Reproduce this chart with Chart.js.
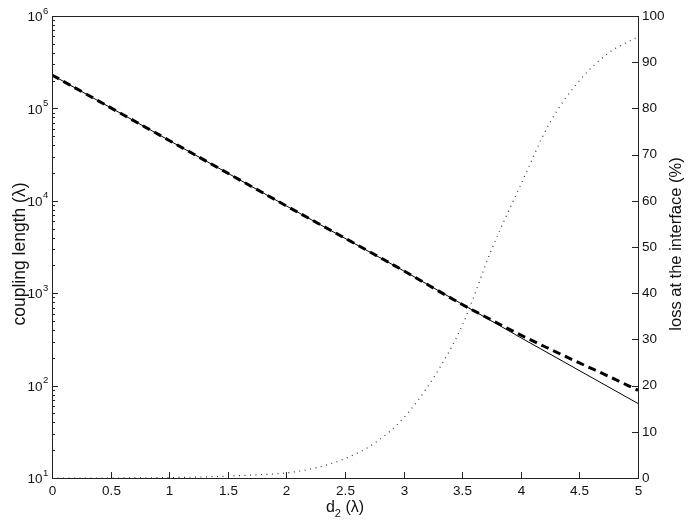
<!DOCTYPE html>
<html>
<head>
<meta charset="utf-8">
<script src="https://cdn.jsdelivr.net/npm/chart.js@4.4.1/dist/chart.umd.min.js"></script>
<style>
  html, body { margin: 0; padding: 0; background: #fff; }
  #wrap { width: 692px; height: 526px; }
</style>
</head>
<body>
<div id="wrap"><canvas id="chart"></canvas></div>
<script>
// thin solid line: coupling length, straight in log scale
const idealD   = [0, 1, 2, 3, 4, 5];
const idealLen = [230000, 45000, 8800, 1750, 330, 64];

// thick dashed line: coupling length, bends up after d2 ~ 3.5
const exactD   = [0, 1, 2, 3, 3.5, 3.75, 4, 4.25, 4.5, 4.75, 5];
const exactLen = [230000, 45000, 8800, 1750, 755, 513, 352, 248, 176, 126, 89];

// dotted line: loss at the interface (%)
const lossD   = [0, 0.5, 1, 1.25, 1.5, 1.75, 2, 2.25, 2.5, 2.75, 3, 3.25, 3.5, 3.75, 4, 4.25, 4.5, 4.75, 5];
const lossPct = [0, 0, 0.1, 0.2, 0.4, 0.7, 1.1, 2.2, 4.2, 7.5, 13, 21.5, 33, 49.4, 63.5, 77, 86, 92, 95.5];

const xTicks  = [0, 0.5, 1, 1.5, 2, 2.5, 3, 3.5, 4, 4.5, 5];
const yExps   = [1, 2, 3, 4, 5, 6];
const y2Ticks = [0, 10, 20, 30, 40, 50, 60, 70, 80, 90, 100];

const FONT = '"Liberation Sans", Arial, Helvetica, sans-serif';

function pts(xs, ys) {
  return xs.map((v, i) => ({ x: v, y: ys[i] }));
}

const axesPlugin = {
  id: 'axes',
  afterDraw(chart) {
    const ctx = chart.ctx;
    const a = chart.chartArea;
    const x = chart.scales.x, y = chart.scales.y, y2 = chart.scales.y2;
    ctx.save();
    ctx.strokeStyle = '#222';
    ctx.lineWidth = 1;
    ctx.strokeRect(a.left + 0.5, a.top + 0.5, a.right - a.left, a.bottom - a.top);

    ctx.fillStyle = '#111';
    ctx.font = '13.5px ' + FONT;
    ctx.beginPath();
    // x ticks
    ctx.textAlign = 'center';
    ctx.textBaseline = 'middle';
    xTicks.forEach(v => {
      const px = Math.round(x.getPixelForValue(v)) + 0.5;
      ctx.moveTo(px, a.bottom);
      ctx.lineTo(px, a.bottom - 6);
      ctx.fillText(String(v), px, a.bottom + 13);
    });
    // left log ticks
    yExps.forEach(e => {
      const py = Math.round(y.getPixelForValue(Math.pow(10, e))) + 0.5;
      ctx.moveTo(a.left, py);
      ctx.lineTo(a.left + 6, py);
      if (e < 6) {
        for (let m = 2; m <= 9; m++) {
          const pm = Math.round(y.getPixelForValue(m * Math.pow(10, e))) + 0.5;
          ctx.moveTo(a.left, pm);
          ctx.lineTo(a.left + 3, pm);
        }
      }
    });
    // right ticks
    y2Ticks.forEach(v => {
      const py = Math.round(y2.getPixelForValue(v)) + 0.5;
      ctx.moveTo(a.right, py);
      ctx.lineTo(a.right - 6, py);
    });
    ctx.stroke();

    // left labels 10^n
    yExps.forEach(e => {
      const py = y.getPixelForValue(Math.pow(10, e));
      ctx.font = '13.5px ' + FONT;
      ctx.textAlign = 'right';
      ctx.fillText('10', a.left - 9.5, py + 1.5);
      ctx.font = '9.5px ' + FONT;
      ctx.textAlign = 'left';
      ctx.fillText(String(e), a.left - 9, py - 5);
    });
    // right labels
    ctx.font = '13.5px ' + FONT;
    ctx.textAlign = 'left';
    y2Ticks.forEach(v => {
      ctx.fillText(String(v), a.right + 4, y2.getPixelForValue(v));
    });

    // titles
    ctx.save();
    ctx.font = '17.5px ' + FONT;
    ctx.translate(20, 254);
    ctx.rotate(-Math.PI / 2);
    ctx.textAlign = 'center';
    ctx.fillText('coupling length (λ)', 0, 0);
    ctx.restore();

    ctx.save();
    ctx.font = '16.5px ' + FONT;
    ctx.translate(676, 244);
    ctx.rotate(-Math.PI / 2);
    ctx.textAlign = 'center';
    ctx.fillText('loss at the interface (%)', 0, 0);
    ctx.restore();

    // d_2 (λ)
    const cx = (a.left + a.right) / 2;
    const ty = 512;
    ctx.textAlign = 'left';
    ctx.textBaseline = 'alphabetic';
    ctx.font = '16px ' + FONT;
    const w1 = ctx.measureText('d').width;
    ctx.font = '11px ' + FONT;
    const w2 = ctx.measureText('2').width;
    ctx.font = '16px ' + FONT;
    const w3 = ctx.measureText(' (λ)').width;
    const x0 = cx - (w1 + w2 + w3) / 2;
    ctx.fillText('d', x0, ty);
    ctx.font = '11px ' + FONT;
    ctx.fillText('2', x0 + w1, ty + 5);
    ctx.font = '16px ' + FONT;
    ctx.fillText(' (λ)', x0 + w1 + w2, ty);
    ctx.restore();
  }
};

new Chart(document.getElementById('chart'), {
  type: 'line',
  data: {
    datasets: [
      {
        data: pts(idealD, idealLen),
        yAxisID: 'y',
        borderColor: '#000',
        borderWidth: 1,
        pointRadius: 0,
        tension: 0
      },
      {
        data: pts(exactD, exactLen),
        yAxisID: 'y',
        borderColor: '#000',
        borderWidth: 3,
        borderDash: [8, 5],
        pointRadius: 0,
        cubicInterpolationMode: 'monotone'
      },
      {
        data: pts(lossD, lossPct),
        yAxisID: 'y2',
        borderColor: '#333',
        borderWidth: 1.2,
        borderDash: [1, 4.5],
        pointRadius: 0,
        cubicInterpolationMode: 'monotone'
      }
    ]
  },
  options: {
    responsive: true,
    maintainAspectRatio: false,
    animation: false,
    layout: { padding: { left: 52, right: 54, top: 16, bottom: 48 } },
    plugins: { legend: { display: false }, tooltip: { enabled: false } },
    scales: {
      x: { type: 'linear', min: 0, max: 5, display: false },
      y: { type: 'logarithmic', min: 10, max: 1000000, display: false },
      y2: { type: 'linear', position: 'right', min: 0, max: 100, display: false }
    }
  },
  plugins: [axesPlugin]
});
</script>
</body>
</html>
